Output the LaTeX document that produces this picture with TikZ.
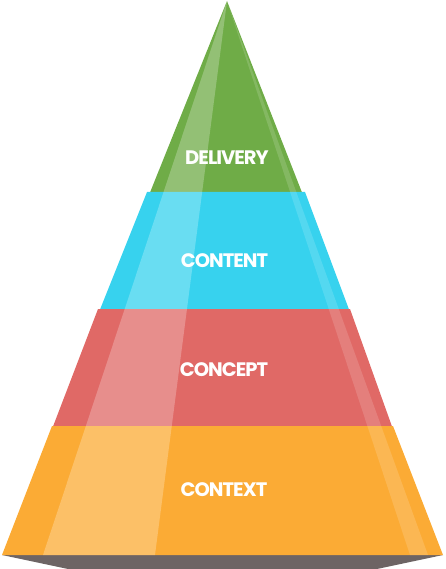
\documentclass[tikz,border=0pt]{standalone}
\usepackage{fontspec}
\newfontfamily\labelfont{Poppins}[LetterSpace=-5]
\definecolor{pgreen}{HTML}{6FAC47}
\definecolor{pcyan}{HTML}{37D2EE}
\definecolor{pred}{HTML}{E06966}
\definecolor{porange}{HTML}{FBAB35}
\definecolor{pshadow}{HTML}{6D6464}
\tikzset{
  layerlabel/.style={text=white, font=\labelfont\bfseries\fontsize{19.5}{20}\selectfont, inner sep=0pt, anchor=center},
  hilite/.style={fill=white, fill opacity=0.25},
  stripe/.style={fill=white, fill opacity=0.15}
}
\begin{document}
\begin{tikzpicture}[x=1pt, y=-1pt]
\useasboundingbox (0,0) rectangle (445,569);
% shadow
\fill[pshadow] (2,555) -- (443,555) -- (377,569) -- (68,569) -- cycle;
% layers
\fill[pgreen] (227,1) -- (302,192.5) -- (150,192.5) -- cycle;
\fill[pcyan] (147,192) -- (305,192) -- (349,309.5) -- (100,309.5) -- cycle;
\fill[pred] (98,309) -- (350,309) -- (392,426.5) -- (53,426.5) -- cycle;
\fill[porange] (52,426) -- (393,426) -- (443,555) -- (2,555) -- cycle;
% highlights clipped to pyramid
\begin{scope}
  \clip (227,1) -- (302,192) -- (305,192) -- (350,309) -- (393,426) -- (443,555) -- (2,555) -- (52,426) -- (98,309) -- (147,192) -- (150,192) -- cycle;
  \fill[hilite] (227,1) -- (155,555) -- (43,555) -- cycle;
  \fill[stripe] (227,1) -- (428,555) -- (410,555) -- cycle;
\end{scope}
% labels
\node[layerlabel] (delivery) at (227,158) {DELIVERY};
\node[layerlabel] (content) at (224.5,261) {CONTENT};
\node[layerlabel] (concept) at (224,370) {CONCEPT};
\node[layerlabel] (context) at (224,490) {CONTEXT};
\end{tikzpicture}
\end{document}
